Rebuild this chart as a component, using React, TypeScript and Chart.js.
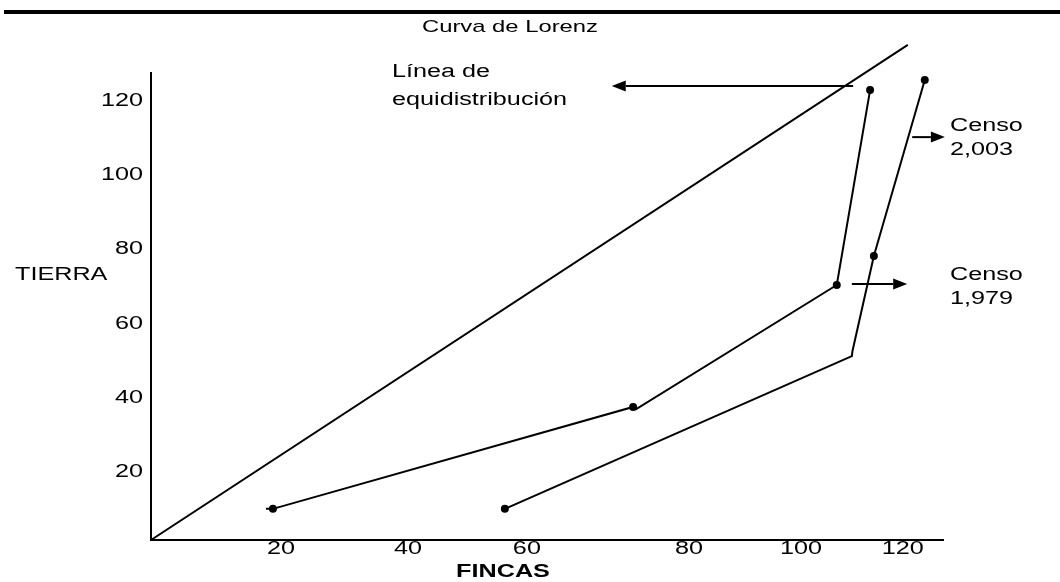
import React, { useEffect, useRef } from "react";
import { Chart, registerables } from "chart.js";

Chart.register(...registerables);

const TITLE = "Curva de Lorenz";
const X_TITLE = "FINCAS";
const Y_TITLE = "TIERRA";

// x tick positions (the hand-drawn axis is not evenly spaced) and their labels
const X_TICK_POS = [20.7, 40.9, 59.8, 85.6, 103.4, 119.6];
const X_TICK_LABELS = ["20", "40", "60", "80", "100", "120"];
const Y_TICKS = [20, 40, 60, 80, 100, 120];

// Línea de equidistribución
const EQ_X = [0, 120.4];
const EQ_Y = [0, 133.6];

// Censo 1,979
const C1979_X = [18.3, 19.4, 76.7, 77.2, 109.1, 114.4];
const C1979_Y = [8.4, 8.4, 35.9, 35.3, 68.8, 121.4];
const C1979_R = [0, 4, 4, 0, 4, 4];

// Censo 2,003
const C2003_X = [56.3, 111.5, 111.6, 115.0, 123.1];
const C2003_Y = [8.4, 49.6, 51.0, 76.6, 124.1];
const C2003_R = [4, 0, 0, 4, 4];

// arrows [x1, y1, x2, y2] in data units (arrowhead at x2,y2)
const ARROWS = [
  [111.7, 122.5, 73.3, 122.5],
  [121.1, 108.7, 126.3, 108.7],
  [111.5, 69.1, 120.3, 69.1],
];

const FONT = "'Liberation Sans', Arial, sans-serif";
const SX = 1.4; // the source text is horizontally stretched

const toPts = (xs: number[], ys: number[]) => xs.map((x, i) => ({ x, y: ys[i] }));

function wideText(
  ctx: CanvasRenderingContext2D,
  text: string,
  x: number,
  y: number,
  align: CanvasTextAlign,
  font: string
) {
  ctx.save();
  ctx.font = font;
  ctx.textAlign = align;
  ctx.textBaseline = "middle";
  ctx.fillStyle = "#000";
  ctx.translate(x, y);
  ctx.scale(SX, 1);
  ctx.fillText(text, 0, 0);
  ctx.restore();
}

export default function App() {
  const ref = useRef<HTMLCanvasElement | null>(null);

  useEffect(() => {
    document.body.style.margin = "0";
    const canvas = ref.current!;
    const decor = {
      id: "decor",
      afterDraw(chart: any) {
        const ctx = chart.ctx as CanvasRenderingContext2D;
        const xs = chart.scales.x;
        const ys = chart.scales.y;
        const f18 = `18px ${FONT}`;
        ctx.save();
        // top rule
        ctx.fillStyle = "#000";
        ctx.fillRect(4, 10, 1056, 4);
        // title
        wideText(ctx, TITLE, 510, 27, "center", `17px ${FONT}`);
        // tick labels, placed by the scales
        xs.ticks.forEach((t: any, i: number) => {
          wideText(ctx, X_TICK_LABELS[i], xs.getPixelForValue(t.value), 549, "center", f18);
        });
        ys.ticks.forEach((t: any) => {
          wideText(ctx, String(t.value), 143, ys.getPixelForValue(t.value) + 6, "right", f18);
        });
        // axis titles
        wideText(ctx, Y_TITLE, 15, 275, "left", f18);
        wideText(ctx, X_TITLE, 503, 572, "center", `bold 18px ${FONT}`);
        // annotations
        wideText(ctx, "Línea de", 392, 72, "left", f18);
        wideText(ctx, "equidistribución", 392, 100, "left", f18);
        wideText(ctx, "Censo", 950, 126, "left", f18);
        wideText(ctx, "2,003", 950, 150, "left", f18);
        wideText(ctx, "Censo", 950, 275, "left", f18);
        wideText(ctx, "1,979", 950, 299, "left", f18);
        // arrows
        ctx.strokeStyle = "#000";
        ctx.fillStyle = "#000";
        ctx.lineWidth = 2;
        for (const [x1, y1, x2, y2] of ARROWS) {
          const px1 = xs.getPixelForValue(x1);
          const py1 = ys.getPixelForValue(y1);
          const px2 = xs.getPixelForValue(x2);
          const py2 = ys.getPixelForValue(y2);
          const dir = Math.sign(px2 - px1);
          const len = 14;
          const hw = 5.5;
          ctx.beginPath();
          ctx.moveTo(px1, py1);
          ctx.lineTo(px2 - dir * len, py2);
          ctx.stroke();
          ctx.beginPath();
          ctx.moveTo(px2, py2);
          ctx.lineTo(px2 - dir * len, py2 - hw);
          ctx.lineTo(px2 - dir * len, py2 + hw);
          ctx.closePath();
          ctx.fill();
        }
        ctx.restore();
      },
    };

    const lineDs = (data: any, radius: number | number[]) => ({
      data,
      borderColor: "#000",
      backgroundColor: "#000",
      borderWidth: 2,
      pointRadius: radius,
      pointHoverRadius: radius,
      pointBorderWidth: 0,
      tension: 0,
      showLine: true,
      clip: false as any,
    });

    const chart = new Chart(canvas, {
      type: "scatter",
      data: {
        datasets: [
          lineDs(toPts(EQ_X, EQ_Y), 0),
          lineDs(toPts(C1979_X, C1979_Y), C1979_R),
          lineDs(toPts(C2003_X, C2003_Y), C2003_R),
        ],
      },
      options: {
        responsive: false,
        animation: false,
        events: [],
        layout: { padding: { left: 91, right: 117, top: 73, bottom: 0 } },
        plugins: {
          legend: { display: false },
          tooltip: { enabled: false },
          title: { display: false },
        },
        scales: {
          x: {
            type: "linear",
            min: 0,
            max: 126,
            grid: { display: false, drawTicks: false },
            border: { display: true, color: "#000", width: 2 },
            afterBuildTicks: (s: any) => {
              s.ticks = X_TICK_POS.map((v) => ({ value: v }));
            },
            afterFit: (s: any) => {
              s.height = 42;
            },
            ticks: { display: false, autoSkip: false },
          },
          y: {
            type: "linear",
            min: 0,
            max: 126,
            grid: { display: false, drawTicks: false },
            border: { display: true, color: "#000", width: 2 },
            afterBuildTicks: (s: any) => {
              s.ticks = Y_TICKS.map((v) => ({ value: v }));
            },
            afterFit: (s: any) => {
              s.width = 60;
            },
            ticks: { display: false },
          },
        },
      },
      plugins: [decor],
    });
    return () => chart.destroy();
  }, []);

  return (
    <div style={{ position: "absolute", left: 0, top: 0, width: 1060, height: 582, background: "#fff" }}>
      <canvas ref={ref} width={1060} height={582} style={{ width: 1060, height: 582, display: "block" }} />
    </div>
  );
}
